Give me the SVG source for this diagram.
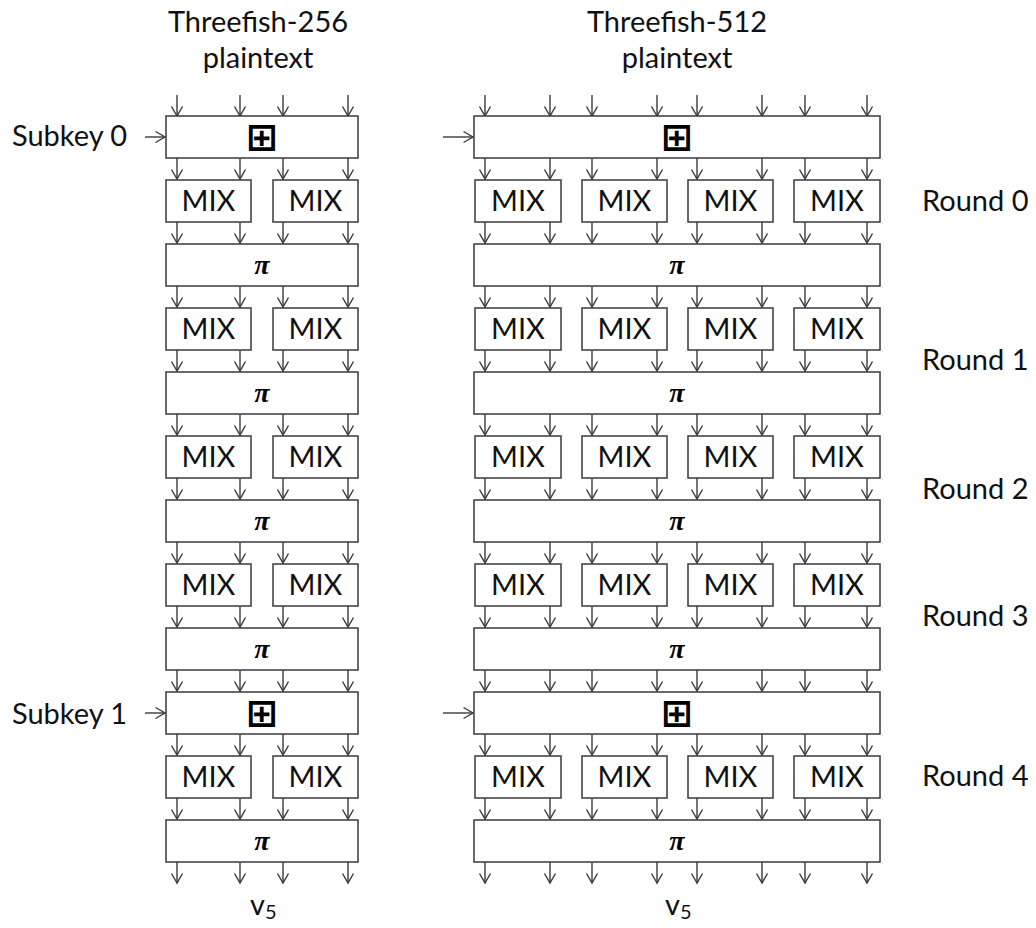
<svg xmlns="http://www.w3.org/2000/svg" xmlns:xlink="http://www.w3.org/1999/xlink" width="1036" height="928" viewBox="0 0 1036 928">
<style>
.box{fill:#fff;stroke:#3a3a3a;stroke-width:1.5}
.t{font-family:Lato,"Liberation Sans",sans-serif;font-size:29px;fill:#111}
.m{text-anchor:middle}
.pi{font-family:"Liberation Serif",serif;font-style:italic;font-weight:bold;font-size:28px;text-anchor:middle;fill:#000}
.add{font-family:"DejaVu Sans",sans-serif;font-weight:bold;font-size:38px;text-anchor:middle;fill:#000}
.ar{stroke:#3a3a3a;stroke-width:1.4;fill:none;marker-end:url(#ah)}
</style>
<defs>
<marker id="ah" markerUnits="userSpaceOnUse" markerWidth="14" markerHeight="14" viewBox="0 0 14 14" refX="11.5" refY="7" orient="auto">
<path d="M2,1.5 L11.5,7 L2,12.5" fill="none" stroke="#3a3a3a" stroke-width="1.4"/>
</marker>
<g id="rowL">
<line class="ar" x1="177" y1="0" x2="177" y2="21"/>
<line class="ar" x1="240" y1="0" x2="240" y2="21"/>
<line class="ar" x1="283" y1="0" x2="283" y2="21"/>
<line class="ar" x1="348" y1="0" x2="348" y2="21"/>
</g>
<g id="rowR">
<line class="ar" x1="485" y1="0" x2="485" y2="21"/>
<line class="ar" x1="550" y1="0" x2="550" y2="21"/>
<line class="ar" x1="592" y1="0" x2="592" y2="21"/>
<line class="ar" x1="657" y1="0" x2="657" y2="21"/>
<line class="ar" x1="697" y1="0" x2="697" y2="21"/>
<line class="ar" x1="762" y1="0" x2="762" y2="21"/>
<line class="ar" x1="805" y1="0" x2="805" y2="21"/>
<line class="ar" x1="867" y1="0" x2="867" y2="21"/>
</g>
<g id="mixL">
<rect class="box" x="166" y="0" width="85" height="42"/>
<text class="t m" x="208.5" y="31">MIX</text>
<rect class="box" x="273" y="0" width="85" height="42"/>
<text class="t m" x="315.5" y="31">MIX</text>
</g>
<g id="mixR">
<rect class="box" x="475" y="0" width="86" height="42"/>
<text class="t m" x="518" y="31">MIX</text>
<rect class="box" x="582" y="0" width="85" height="42"/>
<text class="t m" x="624.5" y="31">MIX</text>
<rect class="box" x="688" y="0" width="85" height="42"/>
<text class="t m" x="730.5" y="31">MIX</text>
<rect class="box" x="794" y="0" width="86" height="42"/>
<text class="t m" x="837" y="31">MIX</text>
</g>
<g id="piL">
<rect class="box" x="166" y="0" width="192" height="42"/>
<text class="pi" x="262" y="30">π</text>
</g>
<g id="piR">
<rect class="box" x="474" y="0" width="406" height="42"/>
<text class="pi" x="677" y="30">π</text>
</g>
<g id="addL">
<rect class="box" x="166" y="0" width="192" height="42"/>
<text class="add" x="262" y="34">⊞</text>
</g>
<g id="addR">
<rect class="box" x="474" y="0" width="406" height="42"/>
<text class="add" x="677" y="34">⊞</text>
</g>
</defs>
<rect width="1036" height="928" fill="#fff"/>

<g id="labels">
<text class="t m" x="258" y="32">Threefish-256</text>
<text class="t m" x="258" y="68">plaintext</text>
<text class="t m" x="677" y="32">Threefish-512</text>
<text class="t m" x="677" y="68">plaintext</text>
<text class="t" x="12" y="146">Subkey 0</text>
<text class="t" x="12" y="724">Subkey 1</text>
<text class="t" x="922" y="211">Round 0</text>
<text class="t" x="922" y="370">Round 1</text>
<text class="t" x="922" y="499">Round 2</text>
<text class="t" x="922" y="626">Round 3</text>
<text class="t" x="922" y="786">Round 4</text>
<text class="t" x="250" y="915">v<tspan font-size="20" dy="4">5</tspan></text>
<text class="t" x="665" y="915">v<tspan font-size="20" dy="4">5</tspan></text>
</g>

<g id="connectors">
<line class="ar" x1="145" y1="137" x2="165" y2="137"/>
<line class="ar" x1="443" y1="137" x2="473" y2="137"/>
<line class="ar" x1="145" y1="713" x2="165" y2="713"/>
<line class="ar" x1="443" y1="713" x2="473" y2="713"/>
<use xlink:href="#rowL" y="95"/><use xlink:href="#rowR" y="95"/>
<use xlink:href="#rowL" y="158"/><use xlink:href="#rowR" y="158"/>
<use xlink:href="#rowL" y="222"/><use xlink:href="#rowR" y="222"/>
<use xlink:href="#rowL" y="286"/><use xlink:href="#rowR" y="286"/>
<use xlink:href="#rowL" y="350"/><use xlink:href="#rowR" y="350"/>
<use xlink:href="#rowL" y="414"/><use xlink:href="#rowR" y="414"/>
<use xlink:href="#rowL" y="478"/><use xlink:href="#rowR" y="478"/>
<use xlink:href="#rowL" y="542"/><use xlink:href="#rowR" y="542"/>
<use xlink:href="#rowL" y="606"/><use xlink:href="#rowR" y="606"/>
<use xlink:href="#rowL" y="670"/><use xlink:href="#rowR" y="670"/>
<use xlink:href="#rowL" y="734"/><use xlink:href="#rowR" y="734"/>
<use xlink:href="#rowL" y="798"/><use xlink:href="#rowR" y="798"/>
<use xlink:href="#rowL" y="862"/><use xlink:href="#rowR" y="862"/>
</g>

<g id="add0"><use xlink:href="#addL" y="116"/><use xlink:href="#addR" y="116"/></g>
<g id="mix0"><use xlink:href="#mixL" y="180"/><use xlink:href="#mixR" y="180"/></g>
<g id="pi0"><use xlink:href="#piL" y="244"/><use xlink:href="#piR" y="244"/></g>
<g id="mix1"><use xlink:href="#mixL" y="308"/><use xlink:href="#mixR" y="308"/></g>
<g id="pi1"><use xlink:href="#piL" y="372"/><use xlink:href="#piR" y="372"/></g>
<g id="mix2"><use xlink:href="#mixL" y="436"/><use xlink:href="#mixR" y="436"/></g>
<g id="pi2"><use xlink:href="#piL" y="500"/><use xlink:href="#piR" y="500"/></g>
<g id="mix3"><use xlink:href="#mixL" y="564"/><use xlink:href="#mixR" y="564"/></g>
<g id="pi3"><use xlink:href="#piL" y="628"/><use xlink:href="#piR" y="628"/></g>
<g id="add1"><use xlink:href="#addL" y="692"/><use xlink:href="#addR" y="692"/></g>
<g id="mix4"><use xlink:href="#mixL" y="756"/><use xlink:href="#mixR" y="756"/></g>
<g id="pi4"><use xlink:href="#piL" y="820"/><use xlink:href="#piR" y="820"/></g>
</svg>
